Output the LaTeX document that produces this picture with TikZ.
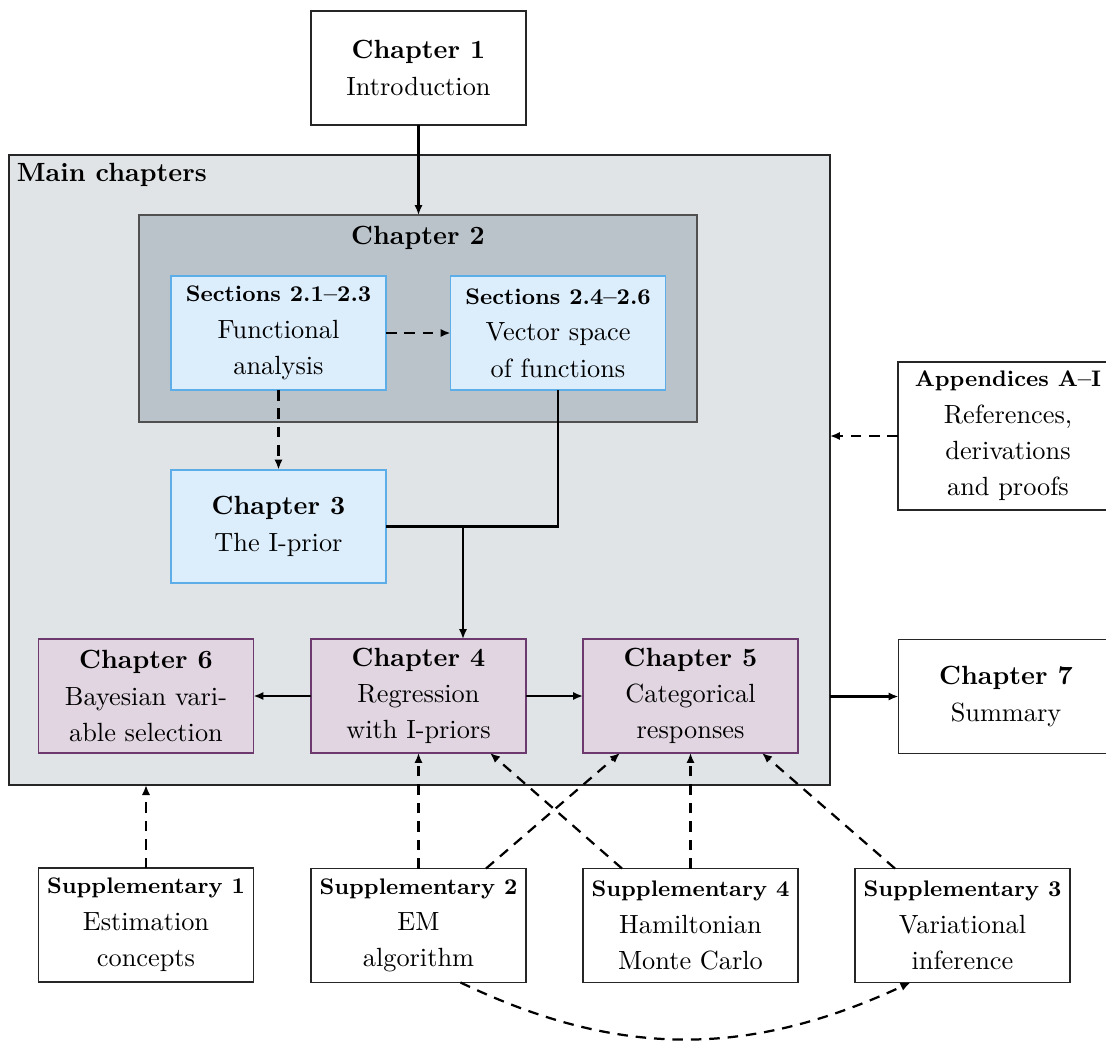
\documentclass[tikz,border=0pt]{standalone}
\usetikzlibrary{arrows.meta,calc}
\definecolor{mainbg}{RGB}{224,228,230}
\definecolor{chtwobg}{RGB}{186,194,202}
\definecolor{chtwoline}{RGB}{80,80,80}
\definecolor{secbg}{RGB}{220,237,251}
\definecolor{secline}{RGB}{93,173,232}
\definecolor{purbg}{RGB}{224,213,224}
\definecolor{purline}{RGB}{108,58,110}
\begin{document}
\begin{tikzpicture}[x=0.38pt,y=-0.38pt,
  every node/.style={inner sep=0pt,outer sep=0pt},
  box/.style={draw=black!85,line width=0.55pt,fill=white,minimum width=81.7pt,minimum height=43.3pt,align=center,font=\fontsize{10}{13.8}\selectfont},
  secbox/.style={box,draw=secline,fill=secbg,line width=0.75pt},
  purbox/.style={box,draw=purline,fill=purbg,line width=0.75pt},
  arr/.style={-{Latex[length=3.8pt,width=3.2pt]},line width=0.85pt},
  darr/.style={arr,dash pattern=on 4pt off 3pt}
]
\useasboundingbox (0,0) rectangle (1106,1041);
\clip (0,0) rectangle (1106,1041);

% containers
\node[draw=black!85,line width=0.55pt,fill=mainbg,minimum width=311.98pt,minimum height=239.4pt] (main) at (419.5,470) {};
\node[anchor=north west,font=\fontsize{10}{12}\selectfont\bfseries] (mainlbl) at (17,163) {Main chapters};
\node[draw=chtwoline,line width=0.55pt,fill=chtwobg,minimum width=212.04pt,minimum height=78.66pt] (ch2) at (418,318.5) {};
\node[font=\fontsize{10}{12}\selectfont\bfseries] (ch2lbl) at (418,238) {Chapter 2};

% nodes
\node[box] (ch1) at (418.5,68) {\textbf{Chapter 1}\\Introduction};
\node[secbox] (s1) at (278.5,333) {{\fontsize{8.55}{10}\selectfont\bfseries Sections 2.1--2.3}\\Functional\\analysis};
\node[secbox] (s2) at (558,333) {{\fontsize{8.55}{10}\selectfont\bfseries Sections 2.4--2.6}\\Vector space\\of functions};
\node[secbox] (ch3) at (278.5,526.5) {\textbf{Chapter 3}\\The I-prior};
\node[purbox] (ch6) at (146,696) {\textbf{Chapter 6}\\Bayesian vari-\\able selection};
\node[purbox] (ch4) at (418.5,696) {\textbf{Chapter 4}\\Regression\\with I-priors};
\node[purbox] (ch5) at (690.5,696) {\textbf{Chapter 5}\\Categorical\\responses};
\node[box] (ch7) at (1006,696.5) {\textbf{Chapter 7}\\Summary};
\node[box,minimum width=83.6pt,minimum height=56.2pt] (app) at (1008,436) {{\fontsize{8.55}{10}\selectfont\bfseries Appendices A--I}\\References,\\derivations\\and proofs};
\node[box] (sp1) at (146,925) {{\fontsize{8.55}{10}\selectfont\bfseries Supplementary 1}\\Estimation\\concepts};
\node[box] (sp2) at (418.5,925.5) {{\fontsize{8.55}{10}\selectfont\bfseries Supplementary 2}\\EM\\algorithm};
\node[box] (sp4) at (690.5,925.5) {{\fontsize{8.55}{10}\selectfont\bfseries Supplementary 4}\\Hamiltonian\\Monte Carlo};
\node[box] (sp3) at (962.5,925.5) {{\fontsize{8.55}{10}\selectfont\bfseries Supplementary 3}\\Variational\\inference};

% connectors
\draw[arr] (ch1.south) -- (ch1.south |- ch2.north);
\draw[darr] (s1.east) -- (s2.west);
\draw[darr] (s1.south) -- (ch3.north);
\draw[line width=0.85pt] (s2.south) |- (ch3.east);
\coordinate (j) at ($(ch3.east)+(77,0)$);
\draw[arr] (j) -- (j |- ch4.north);
\draw[arr] (ch4.west) -- (ch6.east);
\draw[arr] (ch4.east) -- (ch5.west);
\draw[arr] (main.east |- ch7.west) -- (ch7.west);
\draw[darr] (app.west) -- (main.east |- app.west);
\draw[darr] (sp1.north) -- (sp1.north |- main.south);
\draw[darr] (sp2.north) -- (ch4.south);
\draw[darr] (sp4.north) -- (ch5.south);
\draw[darr] ($(sp2.north)+(67.5,0)$) -- ($(ch5.south)+(-70.5,0)$);
\draw[darr] ($(sp4.north)+(-68.5,0)$) -- ($(ch4.south)+(71.5,0)$);
\draw[darr] ($(sp3.north)+(-67.5,0)$) -- ($(ch5.south)+(71.5,0)$);
\draw[darr] ($(sp2.south)+(42,0)$) .. controls (620,1059) and (750,1057) .. ($(sp3.south)+(-52,0)$);
\end{tikzpicture}
\end{document}
